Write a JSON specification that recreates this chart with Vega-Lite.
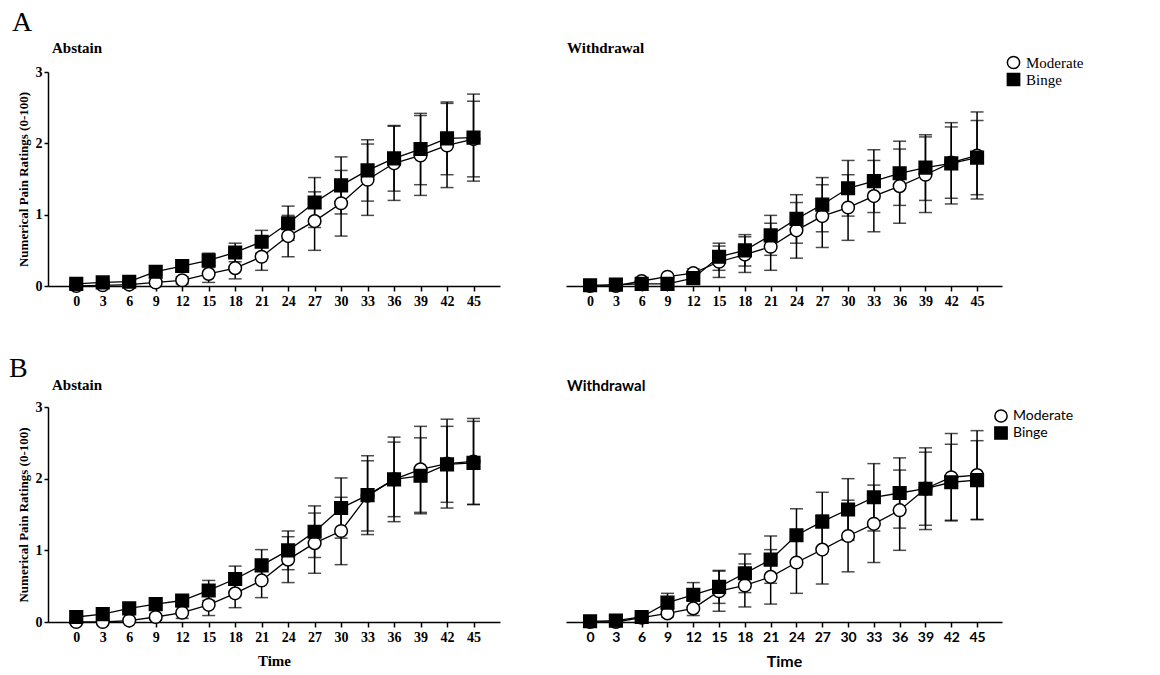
{
"$schema": "https://vega.github.io/schema/vega-lite/v6.json",
"background": "white",
"padding": {"left": 9, "top": 9, "right": 5, "bottom": 5},
"datasets": {"d": [
{"r":"A","c":"Abstain","g":"Moderate","t":0,"m":0.00,"e":0.01},
{"r":"A","c":"Abstain","g":"Moderate","t":3,"m":0.01,"e":0.01},
{"r":"A","c":"Abstain","g":"Moderate","t":6,"m":0.02,"e":0.02},
{"r":"A","c":"Abstain","g":"Moderate","t":9,"m":0.05,"e":0.03},
{"r":"A","c":"Abstain","g":"Moderate","t":12,"m":0.08,"e":0.05},
{"r":"A","c":"Abstain","g":"Moderate","t":15,"m":0.17,"e":0.12},
{"r":"A","c":"Abstain","g":"Moderate","t":18,"m":0.25,"e":0.15},
{"r":"A","c":"Abstain","g":"Moderate","t":21,"m":0.41,"e":0.19},
{"r":"A","c":"Abstain","g":"Moderate","t":24,"m":0.70,"e":0.29},
{"r":"A","c":"Abstain","g":"Moderate","t":27,"m":0.91,"e":0.41},
{"r":"A","c":"Abstain","g":"Moderate","t":30,"m":1.16,"e":0.46},
{"r":"A","c":"Abstain","g":"Moderate","t":33,"m":1.49,"e":0.50},
{"r":"A","c":"Abstain","g":"Moderate","t":36,"m":1.72,"e":0.52},
{"r":"A","c":"Abstain","g":"Moderate","t":39,"m":1.83,"e":0.56},
{"r":"A","c":"Abstain","g":"Moderate","t":42,"m":1.97,"e":0.59},
{"r":"A","c":"Abstain","g":"Moderate","t":45,"m":2.06,"e":0.53},
{"r":"A","c":"Abstain","g":"Binge","t":0,"m":0.03,"e":0.02},
{"r":"A","c":"Abstain","g":"Binge","t":3,"m":0.05,"e":0.02},
{"r":"A","c":"Abstain","g":"Binge","t":6,"m":0.06,"e":0.03},
{"r":"A","c":"Abstain","g":"Binge","t":9,"m":0.20,"e":0.05},
{"r":"A","c":"Abstain","g":"Binge","t":12,"m":0.28,"e":0.07},
{"r":"A","c":"Abstain","g":"Binge","t":15,"m":0.36,"e":0.10},
{"r":"A","c":"Abstain","g":"Binge","t":18,"m":0.47,"e":0.13},
{"r":"A","c":"Abstain","g":"Binge","t":21,"m":0.62,"e":0.16},
{"r":"A","c":"Abstain","g":"Binge","t":24,"m":0.88,"e":0.24},
{"r":"A","c":"Abstain","g":"Binge","t":27,"m":1.17,"e":0.35},
{"r":"A","c":"Abstain","g":"Binge","t":30,"m":1.41,"e":0.40},
{"r":"A","c":"Abstain","g":"Binge","t":33,"m":1.62,"e":0.43},
{"r":"A","c":"Abstain","g":"Binge","t":36,"m":1.79,"e":0.46},
{"r":"A","c":"Abstain","g":"Binge","t":39,"m":1.92,"e":0.50},
{"r":"A","c":"Abstain","g":"Binge","t":42,"m":2.07,"e":0.51},
{"r":"A","c":"Abstain","g":"Binge","t":45,"m":2.08,"e":0.61},
{"r":"A","c":"Withdrawal","g":"Moderate","t":0,"m":0.00,"e":0.01},
{"r":"A","c":"Withdrawal","g":"Moderate","t":3,"m":0.00,"e":0.01},
{"r":"A","c":"Withdrawal","g":"Moderate","t":6,"m":0.07,"e":0.02},
{"r":"A","c":"Withdrawal","g":"Moderate","t":9,"m":0.13,"e":0.03},
{"r":"A","c":"Withdrawal","g":"Moderate","t":12,"m":0.18,"e":0.06},
{"r":"A","c":"Withdrawal","g":"Moderate","t":15,"m":0.34,"e":0.22},
{"r":"A","c":"Withdrawal","g":"Moderate","t":18,"m":0.44,"e":0.25},
{"r":"A","c":"Withdrawal","g":"Moderate","t":21,"m":0.55,"e":0.33},
{"r":"A","c":"Withdrawal","g":"Moderate","t":24,"m":0.78,"e":0.39},
{"r":"A","c":"Withdrawal","g":"Moderate","t":27,"m":0.98,"e":0.44},
{"r":"A","c":"Withdrawal","g":"Moderate","t":30,"m":1.10,"e":0.46},
{"r":"A","c":"Withdrawal","g":"Moderate","t":33,"m":1.26,"e":0.50},
{"r":"A","c":"Withdrawal","g":"Moderate","t":36,"m":1.40,"e":0.52},
{"r":"A","c":"Withdrawal","g":"Moderate","t":39,"m":1.56,"e":0.53},
{"r":"A","c":"Withdrawal","g":"Moderate","t":42,"m":1.73,"e":0.50},
{"r":"A","c":"Withdrawal","g":"Moderate","t":45,"m":1.83,"e":0.61},
{"r":"A","c":"Withdrawal","g":"Binge","t":0,"m":0.01,"e":0.01},
{"r":"A","c":"Withdrawal","g":"Binge","t":3,"m":0.02,"e":0.01},
{"r":"A","c":"Withdrawal","g":"Binge","t":6,"m":0.03,"e":0.02},
{"r":"A","c":"Withdrawal","g":"Binge","t":9,"m":0.03,"e":0.03},
{"r":"A","c":"Withdrawal","g":"Binge","t":12,"m":0.11,"e":0.08},
{"r":"A","c":"Withdrawal","g":"Binge","t":15,"m":0.41,"e":0.19},
{"r":"A","c":"Withdrawal","g":"Binge","t":18,"m":0.50,"e":0.22},
{"r":"A","c":"Withdrawal","g":"Binge","t":21,"m":0.71,"e":0.28},
{"r":"A","c":"Withdrawal","g":"Binge","t":24,"m":0.94,"e":0.34},
{"r":"A","c":"Withdrawal","g":"Binge","t":27,"m":1.14,"e":0.38},
{"r":"A","c":"Withdrawal","g":"Binge","t":30,"m":1.37,"e":0.39},
{"r":"A","c":"Withdrawal","g":"Binge","t":33,"m":1.47,"e":0.44},
{"r":"A","c":"Withdrawal","g":"Binge","t":36,"m":1.58,"e":0.45},
{"r":"A","c":"Withdrawal","g":"Binge","t":39,"m":1.66,"e":0.46},
{"r":"A","c":"Withdrawal","g":"Binge","t":42,"m":1.72,"e":0.57},
{"r":"A","c":"Withdrawal","g":"Binge","t":45,"m":1.80,"e":0.52},
{"r":"B","c":"Abstain","g":"Moderate","t":0,"m":0.00,"e":0.02},
{"r":"B","c":"Abstain","g":"Moderate","t":3,"m":0.00,"e":0.02},
{"r":"B","c":"Abstain","g":"Moderate","t":6,"m":0.02,"e":0.02},
{"r":"B","c":"Abstain","g":"Moderate","t":9,"m":0.07,"e":0.04},
{"r":"B","c":"Abstain","g":"Moderate","t":12,"m":0.13,"e":0.08},
{"r":"B","c":"Abstain","g":"Moderate","t":15,"m":0.24,"e":0.15},
{"r":"B","c":"Abstain","g":"Moderate","t":18,"m":0.40,"e":0.20},
{"r":"B","c":"Abstain","g":"Moderate","t":21,"m":0.58,"e":0.24},
{"r":"B","c":"Abstain","g":"Moderate","t":24,"m":0.87,"e":0.32},
{"r":"B","c":"Abstain","g":"Moderate","t":27,"m":1.10,"e":0.42},
{"r":"B","c":"Abstain","g":"Moderate","t":30,"m":1.27,"e":0.47},
{"r":"B","c":"Abstain","g":"Moderate","t":33,"m":1.76,"e":0.49},
{"r":"B","c":"Abstain","g":"Moderate","t":36,"m":1.99,"e":0.59},
{"r":"B","c":"Abstain","g":"Moderate","t":39,"m":2.13,"e":0.60},
{"r":"B","c":"Abstain","g":"Moderate","t":42,"m":2.21,"e":0.62},
{"r":"B","c":"Abstain","g":"Moderate","t":45,"m":2.24,"e":0.60},
{"r":"B","c":"Abstain","g":"Binge","t":0,"m":0.07,"e":0.02},
{"r":"B","c":"Abstain","g":"Binge","t":3,"m":0.11,"e":0.02},
{"r":"B","c":"Abstain","g":"Binge","t":6,"m":0.19,"e":0.03},
{"r":"B","c":"Abstain","g":"Binge","t":9,"m":0.25,"e":0.04},
{"r":"B","c":"Abstain","g":"Binge","t":12,"m":0.30,"e":0.06},
{"r":"B","c":"Abstain","g":"Binge","t":15,"m":0.44,"e":0.14},
{"r":"B","c":"Abstain","g":"Binge","t":18,"m":0.60,"e":0.18},
{"r":"B","c":"Abstain","g":"Binge","t":21,"m":0.79,"e":0.22},
{"r":"B","c":"Abstain","g":"Binge","t":24,"m":1.00,"e":0.27},
{"r":"B","c":"Abstain","g":"Binge","t":27,"m":1.26,"e":0.36},
{"r":"B","c":"Abstain","g":"Binge","t":30,"m":1.59,"e":0.42},
{"r":"B","c":"Abstain","g":"Binge","t":33,"m":1.77,"e":0.55},
{"r":"B","c":"Abstain","g":"Binge","t":36,"m":1.99,"e":0.52},
{"r":"B","c":"Abstain","g":"Binge","t":39,"m":2.04,"e":0.53},
{"r":"B","c":"Abstain","g":"Binge","t":42,"m":2.20,"e":0.53},
{"r":"B","c":"Abstain","g":"Binge","t":45,"m":2.22,"e":0.58},
{"r":"B","c":"Withdrawal","g":"Moderate","t":0,"m":0.00,"e":0.01},
{"r":"B","c":"Withdrawal","g":"Moderate","t":3,"m":0.00,"e":0.01},
{"r":"B","c":"Withdrawal","g":"Moderate","t":6,"m":0.06,"e":0.02},
{"r":"B","c":"Withdrawal","g":"Moderate","t":9,"m":0.12,"e":0.05},
{"r":"B","c":"Withdrawal","g":"Moderate","t":12,"m":0.19,"e":0.10},
{"r":"B","c":"Withdrawal","g":"Moderate","t":15,"m":0.43,"e":0.28},
{"r":"B","c":"Withdrawal","g":"Moderate","t":18,"m":0.51,"e":0.30},
{"r":"B","c":"Withdrawal","g":"Moderate","t":21,"m":0.63,"e":0.38},
{"r":"B","c":"Withdrawal","g":"Moderate","t":24,"m":0.83,"e":0.43},
{"r":"B","c":"Withdrawal","g":"Moderate","t":27,"m":1.01,"e":0.48},
{"r":"B","c":"Withdrawal","g":"Moderate","t":30,"m":1.20,"e":0.50},
{"r":"B","c":"Withdrawal","g":"Moderate","t":33,"m":1.37,"e":0.54},
{"r":"B","c":"Withdrawal","g":"Moderate","t":36,"m":1.56,"e":0.56},
{"r":"B","c":"Withdrawal","g":"Moderate","t":39,"m":1.86,"e":0.57},
{"r":"B","c":"Withdrawal","g":"Moderate","t":42,"m":2.02,"e":0.61},
{"r":"B","c":"Withdrawal","g":"Moderate","t":45,"m":2.05,"e":0.62},
{"r":"B","c":"Withdrawal","g":"Binge","t":0,"m":0.01,"e":0.01},
{"r":"B","c":"Withdrawal","g":"Binge","t":3,"m":0.02,"e":0.01},
{"r":"B","c":"Withdrawal","g":"Binge","t":6,"m":0.07,"e":0.02},
{"r":"B","c":"Withdrawal","g":"Binge","t":9,"m":0.27,"e":0.13},
{"r":"B","c":"Withdrawal","g":"Binge","t":12,"m":0.38,"e":0.17},
{"r":"B","c":"Withdrawal","g":"Binge","t":15,"m":0.49,"e":0.23},
{"r":"B","c":"Withdrawal","g":"Binge","t":18,"m":0.68,"e":0.27},
{"r":"B","c":"Withdrawal","g":"Binge","t":21,"m":0.87,"e":0.33},
{"r":"B","c":"Withdrawal","g":"Binge","t":24,"m":1.21,"e":0.37},
{"r":"B","c":"Withdrawal","g":"Binge","t":27,"m":1.40,"e":0.41},
{"r":"B","c":"Withdrawal","g":"Binge","t":30,"m":1.57,"e":0.43},
{"r":"B","c":"Withdrawal","g":"Binge","t":33,"m":1.74,"e":0.47},
{"r":"B","c":"Withdrawal","g":"Binge","t":36,"m":1.80,"e":0.49},
{"r":"B","c":"Withdrawal","g":"Binge","t":39,"m":1.86,"e":0.51},
{"r":"B","c":"Withdrawal","g":"Binge","t":42,"m":1.95,"e":0.53},
{"r":"B","c":"Withdrawal","g":"Binge","t":45,"m":1.98,"e":0.55}
]},
"spacing": 47,
"resolve": {"scale": {"shape": "independent", "fill": "independent"}, "legend": {"shape": "independent", "fill": "independent"}},
"vconcat": [
{
 "title": {"text": "A", "anchor": "start", "font": "Liberation Serif, Times New Roman, serif", "fontSize": 28, "fontWeight": "normal", "offset": 4, "dx": -5},
 "spacing": 66,
 "resolve": {"scale": {"shape": "independent", "fill": "independent"}, "legend": {"shape": "independent", "fill": "independent"}},
 "hconcat": [
 {
  "width": 452, "height": 214,
  "title": {"text": "Abstain", "anchor": "start", "frame": "group", "offset": 9, "dx": 4, "font": "Liberation Serif, Times New Roman, serif", "fontSize": 15, "fontWeight": "bold"},
  "data": {"name": "d"},
  "transform": [{"filter": "datum.r === 'A' && datum.c === 'Abstain'"}],
  "encoding": {
   "x": {"field": "t", "type": "quantitative", "scale": {"domain": [-3.2, 48], "nice": false, "zero": false},
     "axis": {"values": [0,3,6,9,12,15,18,21,24,27,30,33,36,39,42,45], "title": null, "tickSize": 5, "labelPadding": 3, "labelFont": "Liberation Serif, Times New Roman, serif", "labelFontSize": 14, "labelFontWeight": "bold", "labelFlush": false}},
   "y": {"field": "m", "type": "quantitative", "scale": {"domain": [0, 3], "nice": false},
     "axis": {"values": [0,1,2,3], "title": "Numerical Pain Ratings (0-100)", "tickSize": 4, "labelPadding": 2, "labelFont": "Liberation Serif, Times New Roman, serif", "labelFontSize": 14, "labelFontWeight": "bold", "titleFont": "Liberation Serif, Times New Roman, serif", "titleFontSize": 13, "titleFontWeight": "bold", "titlePadding": 5}}
  },
  "layer": [
   {"mark": {"type": "errorbar", "ticks": true, "size": 13, "thickness": 1.5, "color": "black"}, "encoding": {"yError": {"field": "e"}}},
   {"mark": {"type": "line", "color": "black", "strokeWidth": 1.3}, "encoding": {"detail": {"field": "g"}}},
   {"mark": {"type": "point", "filled": true, "stroke": "black", "strokeWidth": 1.5, "opacity": 1, "size": 160},
    "encoding": {
     "shape": {"field": "g", "type": "nominal", "scale": {"domain": ["Moderate", "Binge"], "range": ["circle", "square"]}, "legend": null},
     "fill": {"field": "g", "type": "nominal", "scale": {"domain": ["Moderate", "Binge"], "range": ["white", "black"]}, "legend": null}
    }}
  ]
 },
 {
  "width": 436, "height": 214,
  "title": {"text": "Withdrawal", "anchor": "start", "frame": "group", "offset": -1, "dx": 1, "font": "Liberation Serif, Times New Roman, serif", "fontSize": 15, "fontWeight": "bold"},
  "data": {"name": "d"},
  "transform": [{"filter": "datum.r === 'A' && datum.c === 'Withdrawal'"}],
  "encoding": {
   "x": {"field": "t", "type": "quantitative", "scale": {"domain": [-2.8, 47.9], "nice": false, "zero": false},
     "axis": {"values": [0,3,6,9,12,15,18,21,24,27,30,33,36,39,42,45], "title": null, "tickSize": 5, "labelPadding": 3, "labelFont": "Liberation Serif, Times New Roman, serif", "labelFontSize": 14, "labelFontWeight": "bold", "labelFlush": false}},
   "y": {"field": "m", "type": "quantitative", "scale": {"domain": [0, 3], "nice": false}, "axis": null}
  },
  "layer": [
   {"mark": {"type": "errorbar", "ticks": true, "size": 13, "thickness": 1.5, "color": "black"}, "encoding": {"yError": {"field": "e"}}},
   {"mark": {"type": "line", "color": "black", "strokeWidth": 1.3}, "encoding": {"detail": {"field": "g"}}},
   {"mark": {"type": "point", "filled": true, "stroke": "black", "strokeWidth": 1.5, "opacity": 1, "size": 160},
    "encoding": {
     "shape": {"field": "g", "type": "nominal", "scale": {"domain": ["Moderate", "Binge"], "range": ["circle", "square"]},
       "legend": {"title": null, "orient": "none", "legendX": 440, "legendY": -17, "labelFont": "Liberation Serif, Times New Roman, serif", "labelFontSize": 15, "labelColor": "black", "symbolSize": 150, "rowPadding": -2, "labelOffset": 5,
         "encode": {"symbols": {"update": {"stroke": {"value": "black"}, "strokeWidth": {"value": 1.5}}}}}},
     "fill": {"field": "g", "type": "nominal", "scale": {"domain": ["Moderate", "Binge"], "range": ["white", "black"]},
       "legend": {"title": null, "orient": "none", "legendX": 440, "legendY": -17, "labelFont": "Liberation Serif, Times New Roman, serif", "labelFontSize": 15, "labelColor": "black", "symbolSize": 150, "rowPadding": -2, "labelOffset": 5,
         "encode": {"symbols": {"update": {"stroke": {"value": "black"}, "strokeWidth": {"value": 1.5}}}}}}
    }}
  ]
 }
 ]
},
{
 "title": {"text": "B", "anchor": "start", "font": "Liberation Serif, Times New Roman, serif", "fontSize": 28, "fontWeight": "normal", "offset": -5, "dx": -8},
 "spacing": 66,
 "resolve": {"scale": {"shape": "independent", "fill": "independent"}, "legend": {"shape": "independent", "fill": "independent"}},
 "hconcat": [
 {
  "width": 452, "height": 215,
  "title": {"text": "Abstain", "anchor": "start", "frame": "group", "offset": 7, "dx": 4, "font": "Liberation Serif, Times New Roman, serif", "fontSize": 15, "fontWeight": "bold"},
  "data": {"name": "d"},
  "transform": [{"filter": "datum.r === 'B' && datum.c === 'Abstain'"}],
  "encoding": {
   "x": {"field": "t", "type": "quantitative", "scale": {"domain": [-3.2, 48], "nice": false, "zero": false},
     "axis": {"values": [0,3,6,9,12,15,18,21,24,27,30,33,36,39,42,45], "title": "Time", "tickSize": 5, "labelPadding": 3, "labelFont": "Liberation Serif, Times New Roman, serif", "labelFontSize": 14, "labelFontWeight": "bold", "labelFlush": false, "titleFont": "Liberation Serif, Times New Roman, serif", "titleFontSize": 15, "titleFontWeight": "bold", "titlePadding": 9}},
   "y": {"field": "m", "type": "quantitative", "scale": {"domain": [0, 3], "nice": false},
     "axis": {"values": [0,1,2,3], "title": "Numerical Pain Ratings (0-100)", "tickSize": 4, "labelPadding": 2, "labelFont": "Liberation Serif, Times New Roman, serif", "labelFontSize": 14, "labelFontWeight": "bold", "titleFont": "Liberation Serif, Times New Roman, serif", "titleFontSize": 13, "titleFontWeight": "bold", "titlePadding": 5}}
  },
  "layer": [
   {"mark": {"type": "errorbar", "ticks": true, "size": 13, "thickness": 1.5, "color": "black"}, "encoding": {"yError": {"field": "e"}}},
   {"mark": {"type": "line", "color": "black", "strokeWidth": 1.3}, "encoding": {"detail": {"field": "g"}}},
   {"mark": {"type": "point", "filled": true, "stroke": "black", "strokeWidth": 1.5, "opacity": 1, "size": 160},
    "encoding": {
     "shape": {"field": "g", "type": "nominal", "scale": {"domain": ["Moderate", "Binge"], "range": ["circle", "square"]}, "legend": null},
     "fill": {"field": "g", "type": "nominal", "scale": {"domain": ["Moderate", "Binge"], "range": ["white", "black"]}, "legend": null}
    }}
  ]
 },
 {
  "width": 436, "height": 215,
  "title": {"text": "Withdrawal", "anchor": "start", "frame": "group", "offset": 13, "dx": 1, "font": "Lato", "fontSize": 15, "fontWeight": "bold"},
  "data": {"name": "d"},
  "transform": [{"filter": "datum.r === 'B' && datum.c === 'Withdrawal'"}],
  "encoding": {
   "x": {"field": "t", "type": "quantitative", "scale": {"domain": [-2.8, 47.9], "nice": false, "zero": false},
     "axis": {"values": [0,3,6,9,12,15,18,21,24,27,30,33,36,39,42,45], "title": "Time", "tickSize": 5, "labelPadding": 3, "labelFont": "Lato", "labelFontSize": 14, "labelFontWeight": "bold", "labelFlush": false, "titleFont": "Lato", "titleFontSize": 16, "titleFontWeight": "bold", "titlePadding": 9}},
   "y": {"field": "m", "type": "quantitative", "scale": {"domain": [0, 3], "nice": false}, "axis": null}
  },
  "layer": [
   {"mark": {"type": "errorbar", "ticks": true, "size": 13, "thickness": 1.5, "color": "black"}, "encoding": {"yError": {"field": "e"}}},
   {"mark": {"type": "line", "color": "black", "strokeWidth": 1.3}, "encoding": {"detail": {"field": "g"}}},
   {"mark": {"type": "point", "filled": true, "stroke": "black", "strokeWidth": 1.5, "opacity": 1, "size": 160},
    "encoding": {
     "shape": {"field": "g", "type": "nominal", "scale": {"domain": ["Moderate", "Binge"], "range": ["circle", "square"]},
       "legend": {"title": null, "orient": "none", "legendX": 428, "legendY": 2, "labelFont": "Lato", "labelFontSize": 14, "labelColor": "black", "symbolSize": 150, "rowPadding": -6, "labelOffset": 5,
         "encode": {"symbols": {"update": {"stroke": {"value": "black"}, "strokeWidth": {"value": 1.5}}}}}},
     "fill": {"field": "g", "type": "nominal", "scale": {"domain": ["Moderate", "Binge"], "range": ["white", "black"]},
       "legend": {"title": null, "orient": "none", "legendX": 428, "legendY": 2, "labelFont": "Lato", "labelFontSize": 14, "labelColor": "black", "symbolSize": 150, "rowPadding": -6, "labelOffset": 5,
         "encode": {"symbols": {"update": {"stroke": {"value": "black"}, "strokeWidth": {"value": 1.5}}}}}}
    }}
  ]
 }
 ]
}
],
"config": {
 "view": {"stroke": null},
 "axis": {"grid": false, "domainColor": "black", "tickColor": "black", "labelColor": "black", "titleColor": "black", "domainWidth": 1.5, "tickWidth": 1.5},
 "title": {"color": "black"}
}
}
